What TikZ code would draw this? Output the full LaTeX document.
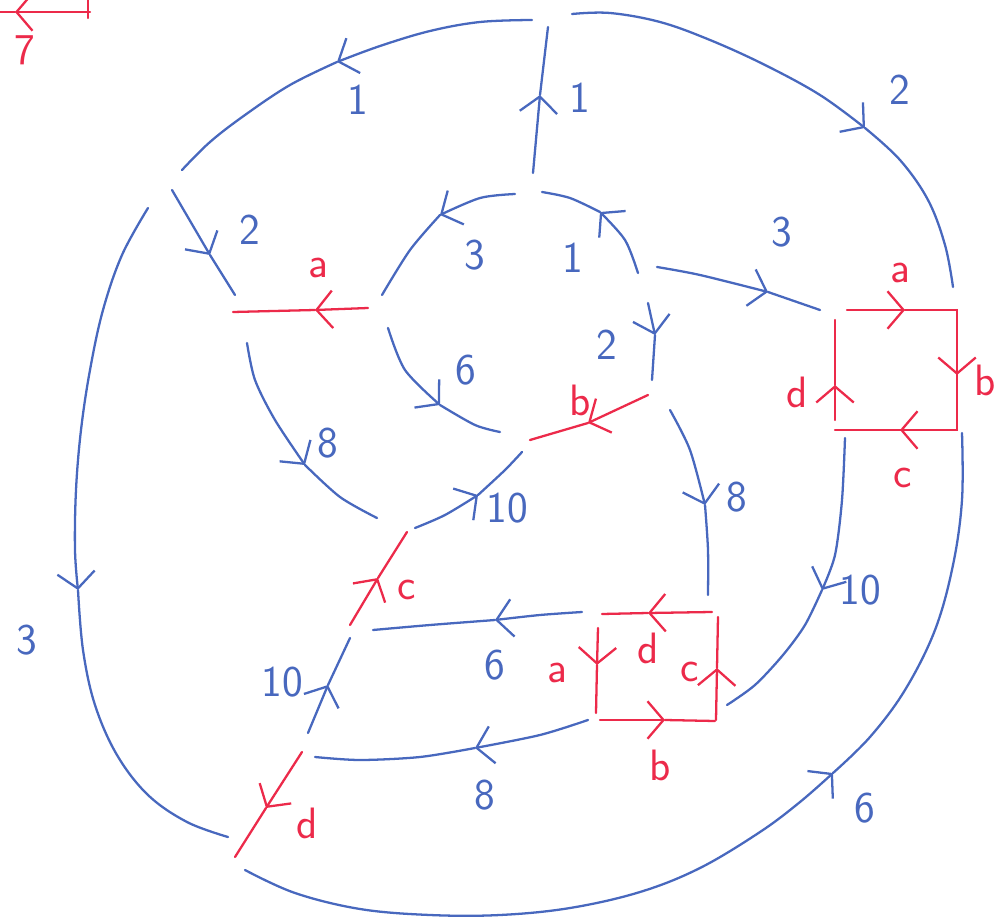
\documentclass[tikz,border=0pt]{standalone}
\usepackage{xcolor}
\usepackage{tikz}
\usetikzlibrary{arrows.meta}
\definecolor{penblue}{RGB}{72,104,190}
\definecolor{penred}{RGB}{236,42,74}

\begin{document}
\begin{tikzpicture}[x=0.02cm, y=-0.02cm,
    strand/.style={line width=1.3pt, color=penblue, line cap=round},
    seam/.style={line width=1.3pt, color=penred, line cap=round},
    tip/.style={-{Straight Barb[length=3.2mm, width=7.5mm]}},
    lbl/.style={font=\sffamily\fontsize{25}{28}\selectfont, inner sep=0pt},
    bl/.style={lbl, text=penblue},
    rl/.style={lbl, text=penred}]

\useasboundingbox (0,0) rectangle (1001,919);

%% Corner stub (red, cut off)
\draw[seam, tip] (90,12) -- (15,12);
\draw[seam] (15,12) -- (0,12);
\draw[seam] (88,0) -- (88,18);
\node[rl] (s7) at (25,50) {7};

%% ── Outer strands ───────────────────────────────────────────────
\draw[strand, tip] plot[smooth, tension=0.6] coordinates {(532,20) (480,22) (430,31) (380,46) (337,62)};
\draw[strand] plot[smooth, tension=0.6] coordinates {(337,62) (290,85) (245,115) (210,142) (182,170)};
\node[bl] (o1) at (358,100) {1};

\draw[strand, tip] (533,173) -- (540,95);
\draw[strand] (540,95) -- (548,27);
\node[bl] (v1) at (580,98) {1};

\draw[strand, tip] plot[smooth, tension=0.6] coordinates
    {(572,14) (610,13) (660,22) (710,40) (765,65) (820,95) (865,128)};
\draw[strand] plot[smooth, tension=0.6] coordinates {(865,128) (900,160) (928,200) (945,245) (953,287)};
\node[bl] (o2) at (900,90) {2};

\draw[strand, tip] (172,190) -- (210,255);
\draw[strand] (210,255) -- (235,295);
\node[bl] (i2) at (250,230) {2};

\draw[strand, tip] plot[smooth, tension=0.6] coordinates
    {(148,208) (122,255) (103,310) (90,370) (81,430) (76,490) (75,550) (78,590)};
\draw[strand] plot[smooth, tension=0.6] coordinates
    {(78,590) (83,650) (95,705) (117,755) (148,795) (187,822) (228,837)};
\node[bl] (o3) at (27,640) {3};

\draw[strand, tip] plot[smooth, tension=0.6] coordinates
    {(245,870) (295,893) (360,909) (430,915) (500,915) (570,908) (640,892) (700,868) (760,832) (800,802) (833,773)};
\draw[strand] plot[smooth, tension=0.6] coordinates
    {(833,773) (870,737) (905,690) (935,630) (953,565) (962,500) (962,433)};
\node[bl] (o6) at (865,808) {6};

%% ── Inner ring ──────────────────────────────────────────────────
\draw[strand, tip] plot[smooth] coordinates {(515,194) (480,198) (440,215)};
\draw[strand] plot[smooth] coordinates {(440,215) (410,250) (382,295)};
\node[bl] (r3) at (475,255) {3};

\draw[strand, tip] plot[smooth] coordinates {(638,273) (625,240) (600,212)};
\draw[strand] plot[smooth] coordinates {(600,212) (570,198) (542,192)};
\node[bl] (r1) at (573,258) {1};

\draw[strand, tip] (648,303) -- (655,335);
\draw[strand] (655,335) -- (652,380);
\node[bl] (r2) at (607,345) {2};

\draw[strand, tip] plot[smooth] coordinates {(388,328) (405,370) (440,405)};
\draw[strand] plot[smooth] coordinates {(440,405) (475,425) (500,432)};
\node[bl] (r6) at (466,370) {6};

%% ── Red cuts ────────────────────────────────────────────────────
\draw[seam, tip] (368,308) -- (315,310);
\draw[seam] (315,310) -- (233,312);
\node[rl] (ca) at (318,268) {a};

\draw[seam, tip] (648,395) -- (588,423);
\draw[seam] (588,423) -- (530,440);
\node[rl] (cb) at (580,400) {b};

\draw[seam, tip] (350,625) -- (378,578);
\draw[seam] (378,578) -- (407,532);
\node[rl] (cc) at (407,590) {c};

\draw[seam, tip] (302,752) -- (266,808);
\draw[seam] (266,808) -- (235,857);
\node[rl] (cd) at (307,823) {d};

%% ── Middle strands ──────────────────────────────────────────────
\draw[strand, tip] plot[smooth] coordinates {(247,343) (255,380) (275,420) (305,465)};
\draw[strand] plot[smooth] coordinates {(305,465) (340,497) (377,518)};
\node[bl] (m8) at (328,443) {8};

\draw[strand, tip] plot[smooth] coordinates {(415,528) (445,515) (478,495)};
\draw[strand] plot[smooth] coordinates {(478,495) (505,470) (522,452)};
\node[bl] (m10) at (507,508) {10};

\draw[strand, tip] (308,733) -- (328,685);
\draw[strand] (328,685) -- (350,638);
\node[bl] (l10) at (282,682) {10};

\draw[strand, tip] plot[smooth] coordinates {(582,612) (540,615) (495,620)};
\draw[strand] plot[smooth] coordinates {(495,620) (430,625) (373,630)};
\node[bl] (m6) at (495,665) {6};

\draw[strand, tip] plot[smooth] coordinates {(588,720) (540,735) (475,748)};
\draw[strand] plot[smooth] coordinates {(475,748) (420,757) (360,760) (315,757)};
\node[bl] (l8) at (485,795) {8};

\draw[strand, tip] plot[smooth] coordinates {(670,410) (690,450) (705,505)};
\draw[strand] plot[smooth] coordinates {(705,505) (708,550) (708,595)};
\node[bl] (r8) at (737,497) {8};

\draw[strand, tip] plot[smooth] coordinates {(657,267) (700,275) (768,292)};
\draw[strand] (768,292) -- (820,310);
\node[bl] (t3) at (782,232) {3};

\draw[strand, tip] plot[smooth] coordinates {(845,438) (842,500) (835,555) (822,590)};
\draw[strand] plot[smooth] coordinates {(822,590) (805,625) (783,655) (755,685) (727,705)};
\node[bl] (r10) at (860,590) {10};

%% ── Right box ───────────────────────────────────────────────────
\draw[seam, tip] (847,310) -- (905,310);
\draw[seam] (905,310) -- (957,310) -- (957,375);
\draw[seam, tip] (957,310) -- (957,375);
\draw[seam] (957,375) -- (957,430) -- (900,430);
\draw[seam, tip] (957,430) -- (900,430);
\draw[seam] (900,430) -- (835,430);
\draw[seam, tip] (835,420) -- (835,385);
\draw[seam] (835,385) -- (835,320);
\node[rl] (ba) at (900,273) {a};
\node[rl] (bb) at (985,380) {b};
\node[rl] (bc) at (903,478) {c};
\node[rl] (bd) at (797,392) {d};

%% ── Lower box ───────────────────────────────────────────────────
\draw[seam, tip] (712,612) -- (648,613);
\draw[seam] (648,613) -- (602,614);
\draw[seam, tip] (598,628) -- (597,665);
\draw[seam] (597,665) -- (596,713);
\draw[seam, tip] (600,720) -- (665,720);
\draw[seam] (665,720) -- (715,721);
\draw[seam, tip] (716,720) -- (717,668);
\draw[seam] (717,668) -- (718,617);
\node[rl] (qd) at (648,648) {d};
\node[rl] (qa) at (557,673) {a};
\node[rl] (qc) at (690,672) {c};
\node[rl] (qb) at (660,765) {b};

\end{tikzpicture}
\end{document}
